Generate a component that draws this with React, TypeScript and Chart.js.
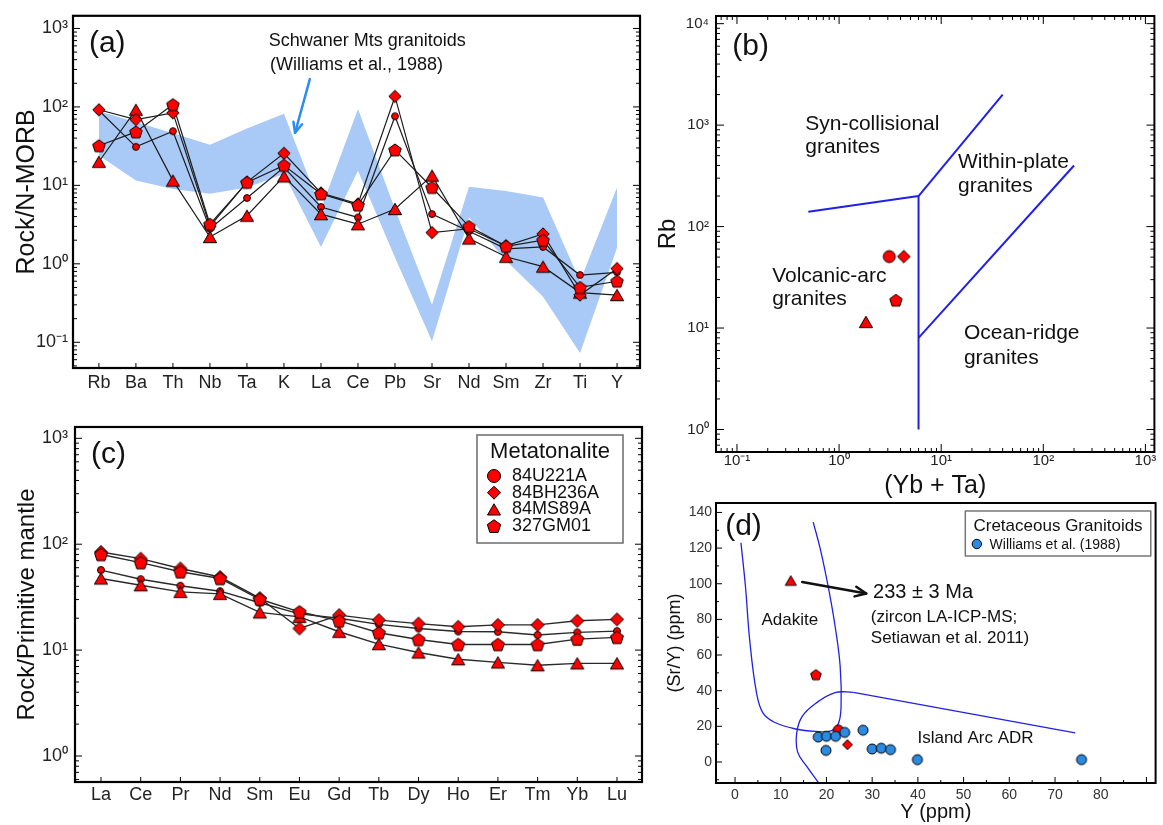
import React, { useEffect, useRef } from 'react';
import { Chart, registerables } from 'chart.js';

Chart.register(...registerables);

const FONT = "'Liberation Sans', Arial, Helvetica, sans-serif";
const RED = '#ff0000';
const BAND = '#a9c9f6';
const BLUE_LINE = '#2020e8';
const WILLIAMS_BLUE = '#2b8be2';
const ARROW_BLUE = '#2b8cf2';

// ---------- shared sample info ----------
const sampleNames = ['84U221A', '84BH236A', '84MS89A', '327GM01'];
const sampleStyles = ['circle', 'diamond', 'triangle', 'pentagon'];

// ---------- Panel (a): N-MORB normalised spider diagram ----------
const elementsA = ['Rb', 'Ba', 'Th', 'Nb', 'Ta', 'K', 'La', 'Ce', 'Pb', 'Sr', 'Nd', 'Sm', 'Zr', 'Ti', 'Y'];
const a84U221A = [90, 31, 49, 2.8, 6.9, 17, 5.3, 3.9, 76, 4.3, 2.6, 1.55, 1.64, 0.72, 0.78];
const a84BH236A = [92, 69, 84, 3.0, 11, 25.6, 8.0, 5.8, 136, 2.5, 2.8, 1.7, 2.4, 0.4, 0.87];
const a84MS89A = [20, 92, 11.5, 2.2, 4.1, 13, 4.3, 3.2, 5.0, 13.3, 2.1, 1.23, 0.92, 0.43, 0.4];
const a327GM01 = [32, 48, 107, 3.2, 10.9, 18, 7.8, 5.6, 28.3, 9.4, 3.0, 1.67, 2.0, 0.5, 0.6];
const schwanerUpper = [88, 64, 46, 33, 53, 82, 5.0, 94, 5.0, 0.3, 9.6, 8.5, 7.0, 0.6, 9.4];
const schwanerLower = [24, 11.5, 9.0, 7.8, 9.4, 14, 1.64, 15.4, 1.2, 0.103, 3.9, 1.1, 0.38, 0.073, 1.6];
const decadesA = [0.1, 1, 10, 100, 1000];

// ---------- Panel (b): Rb vs (Yb+Ta) ----------
const bYbTa = [3.1, 4.3, 1.83, 3.6];
const bRb = [50.6, 50.6, 11.5, 18.8];
const bVagSynX = [0.5, 6];
const bVagSynY = [140, 200];
const bSynWpgX = [6, 40];
const bSynWpgY = [200, 2000];
const bVertX = [6, 6];
const bVertY = [200, 1];
const bWpgOrgX = [6, 200];
const bWpgOrgY = [8, 400];
const decadesBX = [0.1, 1, 10, 100, 1000];
const decadesBY = [1, 10, 100, 1000, 10000];

// ---------- Panel (c): primitive-mantle normalised REE ----------
const elementsC = ['La', 'Ce', 'Pr', 'Nd', 'Sm', 'Eu', 'Gd', 'Tb', 'Dy', 'Ho', 'Er', 'Tm', 'Yb', 'Lu'];
const c84U221A = [57, 46.7, 40.5, 36, 28, 22, 20, 17.5, 16, 15, 14.9, 13.9, 14.7, 15.1];
const c84BH236A = [84.5, 73, 59, 49, 31, 16, 21.4, 19.2, 17.8, 16.6, 17.3, 17.3, 18.9, 19.5];
const c84MS89A = [47.5, 41, 35.5, 34, 22.7, 20.6, 14.9, 11.4, 9.5, 8.2, 7.65, 7.2, 7.5, 7.5];
const c327GM01 = [80, 67, 55, 47.5, 30.2, 23, 18.9, 14.6, 12.6, 11.3, 11.3, 11.3, 12.7, 13.2];
const decadesC = [1, 10, 100, 1000];

// ---------- Panel (d): Sr/Y vs Y ----------
const dWilliamsY = [18.2, 20.0, 22.0, 24.0, 28.0, 19.9, 30.0, 32.0, 34.0, 39.9, 75.8];
const dWilliamsSrY = [14.0, 14.4, 14.4, 16.6, 17.8, 6.5, 7.3, 7.7, 6.9, 1.3, 1.3];
const dSampleY = [22.6, 24.6, 12.2, 17.7];
const dSampleSrY = [17.8, 9.7, 101.8, 49];
const adakiteX = [1.3, 2.3, 3.2, 4.7, 6.1, 8.6, 13.3, 17.6, 21.0, 22.6, 23.2, 23.0, 21.9, 20.5, 18.7, 17.1];
const adakiteY = [123, 98, 68.7, 38.8, 27.5, 22.3, 18.5, 17.2, 17.5, 21.5, 31.2, 53.7, 76, 96.8, 119, 134.6];
const arcCurveX = [18.3, 15.7, 13.7, 13.5, 14.7, 17.7, 21.9, 25.9];
const arcCurveY = [-11.8, -2.5, 5.5, 16.3, 25.6, 33.0, 38.9, 39.1];
const arcLineX = [25.9, 74.4];
const arcLineY = [39.1, 16.3];
const dTicksX = [0, 10, 20, 30, 40, 50, 60, 70, 80];
const dTicksY = [0, 20, 40, 60, 80, 100, 120, 140];

// ---------- helpers ----------
const SUP: Record<string, string> = { '-': '⁻', '0': '⁰', '1': '¹', '2': '²', '3': '³', '4': '⁴' };
function decadeLabel(v: number): string {
  const e = Math.round(Math.log10(v));
  return '10' + String(e).split('').map((c) => SUP[c]).join('');
}
function logTickValues(e0: number, e1: number, mults: number[]): number[] {
  const out: number[] = [];
  for (let e = e0; e <= e1; e++) for (const m of mults) out.push(m * Math.pow(10, e));
  return out;
}
function stepValues(a: number, b: number, step: number): number[] {
  const out: number[] = [];
  for (let v = a; v <= b + 1e-9; v += step) out.push(v);
  return out;
}
const MINORS = [2, 3, 4, 5, 6, 7, 8, 9];

function markerPath(ctx: CanvasRenderingContext2D, style: string, x: number, y: number, r: number) {
  ctx.beginPath();
  if (style === 'circle') {
    ctx.arc(x, y, r, 0, Math.PI * 2);
  } else if (style === 'diamond') {
    ctx.moveTo(x, y - r);
    ctx.lineTo(x + r, y);
    ctx.lineTo(x, y + r);
    ctx.lineTo(x - r, y);
  } else if (style === 'triangle') {
    const yc = y + r * 0.25;
    ctx.moveTo(x, yc - r);
    ctx.lineTo(x + r * 0.866, yc + r * 0.5);
    ctx.lineTo(x - r * 0.866, yc + r * 0.5);
  } else {
    const yc = y + r * 0.095;
    for (let k = 0; k < 5; k++) {
      const a = -Math.PI / 2 + (k * 2 * Math.PI) / 5;
      const px = x + r * Math.cos(a);
      const py = yc + r * Math.sin(a);
      if (k === 0) ctx.moveTo(px, py);
      else ctx.lineTo(px, py);
    }
  }
  ctx.closePath();
}
function drawMarker(ctx: CanvasRenderingContext2D, style: string, x: number, y: number, r: number, fill: string) {
  markerPath(ctx, style, x, y, r);
  ctx.fillStyle = fill;
  ctx.fill();
  ctx.lineWidth = 1;
  ctx.strokeStyle = '#000';
  ctx.stroke();
}
function markerImage(style: string, r: number, fill: string): HTMLCanvasElement {
  const s = 2 * Math.ceil(r + 2);
  const c = document.createElement('canvas');
  c.width = s;
  c.height = s;
  const g = c.getContext('2d') as CanvasRenderingContext2D;
  drawMarker(g, style, s / 2, s / 2, r, fill);
  return c;
}

type TickSpec = { axis: 'x' | 'y'; sides: string[]; values: number[]; len: number };
function framePlugin(lw: number, specs: TickSpec[]) {
  return {
    id: 'frame',
    afterDatasetsDraw(chart: any) {
      const { ctx, chartArea: ca } = chart;
      ctx.save();
      ctx.strokeStyle = '#000';
      ctx.lineWidth = 1;
      ctx.beginPath();
      for (const s of specs) {
        const sc = chart.scales[s.axis];
        for (const v of s.values) {
          const p = sc.getPixelForValue(v);
          if (s.axis === 'x') {
            if (p < ca.left + 1 || p > ca.right - 1) continue;
            for (const side of s.sides) {
              if (side === 'bottom') {
                ctx.moveTo(p, ca.bottom);
                ctx.lineTo(p, ca.bottom - s.len);
              } else {
                ctx.moveTo(p, ca.top);
                ctx.lineTo(p, ca.top + s.len);
              }
            }
          } else {
            if (p < ca.top + 1 || p > ca.bottom - 1) continue;
            for (const side of s.sides) {
              if (side === 'left') {
                ctx.moveTo(ca.left, p);
                ctx.lineTo(ca.left + s.len, p);
              } else {
                ctx.moveTo(ca.right, p);
                ctx.lineTo(ca.right - s.len, p);
              }
            }
          }
        }
      }
      ctx.stroke();
      ctx.lineWidth = lw;
      ctx.strokeRect(ca.left, ca.top, ca.right - ca.left, ca.bottom - ca.top);
      ctx.restore();
    },
  };
}

type Txt = { t: string; x: number; y: number; size: number; align?: CanvasTextAlign };
type Arr = { x1: number; y1: number; x2: number; y2: number; color: string; lw: number; head: number };
function annotPlugin(texts: Txt[], arrows: Arr[], extra?: (chart: any) => void) {
  return {
    id: 'annot',
    afterDraw(chart: any) {
      const { ctx } = chart;
      const sx = chart.scales.x;
      const sy = chart.scales.y;
      ctx.save();
      for (const a of arrows) {
        const x1 = sx.getPixelForValue(a.x1);
        const y1 = sy.getPixelForValue(a.y1);
        const x2 = sx.getPixelForValue(a.x2);
        const y2 = sy.getPixelForValue(a.y2);
        ctx.strokeStyle = a.color;
        ctx.lineWidth = a.lw;
        ctx.lineCap = 'round';
        ctx.lineJoin = 'round';
        ctx.beginPath();
        ctx.moveTo(x1, y1);
        ctx.lineTo(x2, y2);
        ctx.stroke();
        const ang = Math.atan2(y2 - y1, x2 - x1);
        ctx.beginPath();
        ctx.moveTo(x2 - a.head * Math.cos(ang - 0.42), y2 - a.head * Math.sin(ang - 0.42));
        ctx.lineTo(x2, y2);
        ctx.lineTo(x2 - a.head * Math.cos(ang + 0.42), y2 - a.head * Math.sin(ang + 0.42));
        ctx.stroke();
      }
      ctx.fillStyle = '#111';
      ctx.textBaseline = 'middle';
      for (const t of texts) {
        ctx.font = `${t.size}px ${FONT}`;
        ctx.textAlign = t.align || 'left';
        ctx.fillText(t.t, sx.getPixelForValue(t.x), sy.getPixelForValue(t.y));
      }
      if (extra) extra(chart);
      ctx.restore();
    },
  };
}

function baseOptions(padTop: number, padRight: number) {
  return {
    responsive: false,
    animation: false,
    events: [],
    layout: { padding: { left: 0, top: padTop, right: padRight, bottom: 0 } },
    plugins: { legend: { display: false }, tooltip: { enabled: false } },
  };
}
const noGrid = { display: false, drawTicks: false };
const noBorder = { display: false };

// ---------- Panel (a) config ----------
function makeA(): any {
  const pts = (vals: number[]) => vals.map((v, i) => ({ x: i, y: v }));
  const samples = [a84U221A, a84BH236A, a84MS89A, a327GM01];
  const radii = [3.4, 6.2, 7.6, 6.6];
  const markerOrder = [3, 1, 2, 0];
  const datasets: any[] = [
    { data: pts(schwanerUpper), fill: '+1', backgroundColor: BAND, borderColor: 'rgba(0,0,0,0)', borderWidth: 1, pointRadius: 0, order: 20 },
    { data: pts(schwanerLower), fill: false, borderColor: 'rgba(0,0,0,0)', borderWidth: 1, pointRadius: 0, order: 21 },
  ];
  samples.forEach((s, k) =>
    datasets.push({ data: pts(s), borderColor: '#1c1c1c', borderWidth: 1.2, pointRadius: 0, fill: false, order: 10 + k })
  );
  samples.forEach((s, k) =>
    datasets.push({
      data: pts(s),
      showLine: false,
      pointStyle: markerImage(sampleStyles[k], radii[k], RED),
      pointRadius: radii[k],
      order: markerOrder[k],
    })
  );
  return {
    type: 'line',
    data: { datasets },
    options: {
      ...baseOptions(13, 20),
      scales: {
        x: {
          type: 'linear',
          min: -0.7,
          max: 14.62,
          afterBuildTicks: (s: any) => { s.ticks = elementsA.map((_, i) => ({ value: i })); },
          afterFit: (s: any) => { s.height = 32; },
          ticks: {
            callback: (v: number) => elementsA[Math.round(v)],
            font: { family: FONT, size: 18 },
            color: '#222',
            padding: 4,
            maxRotation: 0,
            autoSkip: false,
          },
          grid: noGrid,
          border: noBorder,
        },
        y: {
          type: 'logarithmic',
          min: 0.047,
          max: 1450,
          afterBuildTicks: (s: any) => { s.ticks = decadesA.map((v) => ({ value: v })); },
          afterFit: (s: any) => { s.width = 73; },
          ticks: { callback: (v: number) => decadeLabel(v), font: { family: FONT, size: 18 }, color: '#222', padding: 5, autoSkip: false },
          grid: noGrid,
          border: noBorder,
          title: { display: true, text: 'Rock/N-MORB', font: { family: FONT, size: 25 }, color: '#111', padding: { top: 12, bottom: 0 } },
        },
      },
    },
    plugins: [
      framePlugin(2.2, [
        { axis: 'y', sides: ['left', 'right'], values: logTickValues(-2, 3, [1]), len: 7 },
        { axis: 'y', sides: ['left', 'right'], values: logTickValues(-2, 3, MINORS), len: 4 },
        { axis: 'x', sides: ['bottom'], values: elementsA.map((_, i) => i), len: 5 },
      ]),
      annotPlugin(
        [
          { t: '(a)', x: -0.27, y: 640, size: 30 },
          { t: 'Schwaner Mts granitoids', x: 4.59, y: 685, size: 18 },
          { t: '(Williams et al., 1988)', x: 4.62, y: 340, size: 18 },
        ],
        [{ x1: 5.7, y1: 226, x2: 5.3, y2: 46.9, color: ARROW_BLUE, lw: 2.5, head: 11 }]
      ),
    ],
  };
}

// ---------- Panel (b) config ----------
function makeB(): any {
  const radii = [6, 6.3, 7.6, 6.5];
  const lineDs = (xs: number[], ys: number[]) => ({
    data: xs.map((x, i) => ({ x, y: ys[i] })),
    showLine: true,
    borderColor: BLUE_LINE,
    borderWidth: 2,
    pointRadius: 0,
    fill: false,
    order: 10,
  });
  const datasets: any[] = sampleNames.map((_, k) => ({
    data: [{ x: bYbTa[k], y: bRb[k] }],
    pointStyle: markerImage(sampleStyles[k], radii[k], RED),
    pointRadius: radii[k],
    order: k,
  }));
  datasets.push(lineDs(bVagSynX, bVagSynY), lineDs(bSynWpgX, bSynWpgY), lineDs(bVertX, bVertY), lineDs(bWpgOrgX, bWpgOrgY));
  return {
    type: 'scatter',
    data: { datasets },
    options: {
      ...baseOptions(13, 8),
      scales: {
        x: {
          type: 'logarithmic',
          min: 0.0623,
          max: 1225,
          afterBuildTicks: (s: any) => { s.ticks = decadesBX.map((v) => ({ value: v })); },
          afterFit: (s: any) => { s.height = 53; },
          ticks: { callback: (v: number) => decadeLabel(v), font: { family: FONT, size: 15 }, color: '#222', padding: 0, maxRotation: 0, autoSkip: false },
          grid: noGrid,
          border: noBorder,
          title: { display: true, text: '(Yb + Ta)', font: { family: FONT, size: 25 }, color: '#111', padding: { top: 0, bottom: 4 } },
        },
        y: {
          type: 'logarithmic',
          min: 0.62,
          max: 11900,
          afterBuildTicks: (s: any) => { s.ticks = decadesBY.map((v) => ({ value: v })); },
          afterFit: (s: any) => { s.width = 76; },
          ticks: { callback: (v: number) => decadeLabel(v), font: { family: FONT, size: 15 }, color: '#222', padding: 7, autoSkip: false },
          grid: noGrid,
          border: noBorder,
          title: { display: true, text: 'Rb', font: { family: FONT, size: 24 }, color: '#111', padding: { top: 14, bottom: 0 } },
        },
      },
    },
    plugins: [
      framePlugin(2, [
        { axis: 'y', sides: ['left', 'right'], values: logTickValues(-1, 4, [1]), len: 8 },
        { axis: 'y', sides: ['left', 'right'], values: logTickValues(-1, 4, MINORS), len: 4 },
        { axis: 'x', sides: ['bottom', 'top'], values: logTickValues(-2, 3, [1]), len: 8 },
        { axis: 'x', sides: ['bottom', 'top'], values: logTickValues(-2, 3, MINORS), len: 4 },
      ]),
      annotPlugin(
        [
          { t: '(b)', x: 0.09, y: 5900, size: 30 },
          { t: 'Syn-collisional', x: 0.466, y: 1027, size: 21 },
          { t: 'granites', x: 0.466, y: 600, size: 21 },
          { t: 'Within-plate', x: 14.6, y: 428, size: 21 },
          { t: 'granites', x: 14.6, y: 250, size: 21 },
          { t: 'Volcanic-arc', x: 0.221, y: 32.3, size: 21 },
          { t: 'granites', x: 0.221, y: 19.3, size: 21 },
          { t: 'Ocean-ridge', x: 16.7, y: 8.98, size: 21 },
          { t: 'granites', x: 16.7, y: 5.0, size: 21 },
        ],
        []
      ),
    ],
  };
}

// ---------- Panel (c) config ----------
function makeC(): any {
  const pts = (vals: number[]) => vals.map((v, i) => ({ x: i, y: v }));
  const samples = [c84U221A, c84BH236A, c84MS89A, c327GM01];
  const radii = [3.5, 6.5, 7.6, 6.8];
  const markerOrder = [3, 1, 2, 0];
  const datasets: any[] = [];
  samples.forEach((s, k) =>
    datasets.push({ data: pts(s), borderColor: '#2a2a2a', borderWidth: 1.4, pointRadius: 0, fill: false, order: 10 + k })
  );
  samples.forEach((s, k) =>
    datasets.push({
      data: pts(s),
      showLine: false,
      pointStyle: markerImage(sampleStyles[k], radii[k], RED),
      pointRadius: radii[k],
      order: markerOrder[k],
    })
  );
  const legendR = [6.5, 6.5, 7.5, 7];
  const drawLegend = (chart: any) => {
    const { ctx, chartArea: ca } = chart;
    const bx = ca.right - 165;
    const by = ca.top + 8;
    const bw = 146;
    const bh = 108;
    ctx.lineWidth = 1.5;
    ctx.strokeStyle = '#6b6b6b';
    ctx.strokeRect(bx, by, bw, bh);
    ctx.fillStyle = '#111';
    ctx.textBaseline = 'middle';
    ctx.font = `22px ${FONT}`;
    ctx.textAlign = 'center';
    ctx.fillText('Metatonalite', bx + bw / 2, by + 17);
    ctx.font = `18px ${FONT}`;
    ctx.textAlign = 'left';
    sampleNames.forEach((n, i) => {
      const yy = by + 41 + i * 16.7;
      drawMarker(ctx, sampleStyles[i], bx + 17, yy, legendR[i], RED);
      ctx.fillStyle = '#111';
      ctx.fillText(n, bx + 35, yy);
    });
  };
  return {
    type: 'line',
    data: { datasets },
    options: {
      ...baseOptions(27, 18),
      scales: {
        x: {
          type: 'linear',
          min: -0.655,
          max: 13.63,
          afterBuildTicks: (s: any) => { s.ticks = elementsC.map((_, i) => ({ value: i })); },
          afterFit: (s: any) => { s.height = 43; },
          ticks: {
            callback: (v: number) => elementsC[Math.round(v)],
            font: { family: FONT, size: 18 },
            color: '#222',
            padding: 2,
            maxRotation: 0,
            autoSkip: false,
          },
          grid: noGrid,
          border: noBorder,
        },
        y: {
          type: 'logarithmic',
          min: 0.568,
          max: 1279,
          afterBuildTicks: (s: any) => { s.ticks = decadesC.map((v) => ({ value: v })); },
          afterFit: (s: any) => { s.width = 75; },
          ticks: { callback: (v: number) => decadeLabel(v), font: { family: FONT, size: 18 }, color: '#222', padding: 7, autoSkip: false },
          grid: noGrid,
          border: noBorder,
          title: { display: true, text: 'Rock/Primitive mantle', font: { family: FONT, size: 24 }, color: '#111', padding: { top: 12.6, bottom: 0 } },
        },
      },
    },
    plugins: [
      framePlugin(2.2, [
        { axis: 'y', sides: ['left', 'right'], values: logTickValues(-1, 3, [1]), len: 7 },
        { axis: 'y', sides: ['left', 'right'], values: logTickValues(-1, 3, MINORS), len: 4 },
        { axis: 'x', sides: ['bottom'], values: elementsC.map((_, i) => i), len: 5 },
      ]),
      annotPlugin([{ t: '(c)', x: -0.25, y: 706, size: 30 }], [], drawLegend),
    ],
  };
}

// ---------- Panel (d) config ----------
function makeD(): any {
  const radii = [5.2, 5, 6.4, 5.6];
  const markerOrder = [2, 0, 0, 0];
  const curve = (xs: number[], ys: number[], tension: number) => ({
    data: xs.map((x, i) => ({ x, y: ys[i] })),
    showLine: true,
    borderColor: BLUE_LINE,
    borderWidth: 1.3,
    pointRadius: 0,
    fill: false,
    tension,
    order: 10,
  });
  const datasets: any[] = [
    {
      data: dWilliamsY.map((x, i) => ({ x, y: dWilliamsSrY[i] })),
      pointStyle: markerImage('circle', 5, WILLIAMS_BLUE),
      pointRadius: 5,
      order: 1,
    },
  ];
  sampleNames.forEach((_, k) =>
    datasets.push({
      data: [{ x: dSampleY[k], y: dSampleSrY[k] }],
      pointStyle: markerImage(sampleStyles[k], radii[k], RED),
      pointRadius: radii[k],
      order: markerOrder[k],
    })
  );
  datasets.push(curve(adakiteX, adakiteY, 0.4), curve(arcCurveX, arcCurveY, 0.4), curve(arcLineX, arcLineY, 0));
  const drawLegend = (chart: any) => {
    const { ctx, chartArea: ca } = chart;
    const bx = ca.right - 190.3;
    const by = ca.top + 8;
    const bw = 185.5;
    const bh = 45;
    ctx.lineWidth = 1.5;
    ctx.strokeStyle = '#777';
    ctx.strokeRect(bx, by, bw, bh);
    ctx.fillStyle = '#111';
    ctx.textBaseline = 'middle';
    ctx.font = `17px ${FONT}`;
    ctx.textAlign = 'center';
    ctx.fillText('Cretaceous Granitoids', bx + bw / 2, by + 15);
    drawMarker(ctx, 'circle', bx + 11.6, by + 33, 4.7, WILLIAMS_BLUE);
    ctx.fillStyle = '#111';
    ctx.font = `14px ${FONT}`;
    ctx.textAlign = 'left';
    ctx.fillText('Williams et al. (1988)', bx + 24.3, by + 34);
  };
  return {
    type: 'scatter',
    data: { datasets },
    options: {
      ...baseOptions(33, 1),
      scales: {
        x: {
          type: 'linear',
          min: -4.16,
          max: 92,
          afterBuildTicks: (s: any) => { s.ticks = dTicksX.map((v) => ({ value: v })); },
          afterFit: (s: any) => { s.height = 42; },
          ticks: { font: { family: FONT, size: 14 }, color: '#333', padding: 4, maxRotation: 0, autoSkip: false },
          grid: noGrid,
          border: noBorder,
          title: { display: true, text: 'Y (ppm)', font: { family: FONT, size: 20 }, color: '#111', padding: { top: 0, bottom: 1 } },
        },
        y: {
          type: 'linear',
          min: -11.8,
          max: 145.3,
          afterBuildTicks: (s: any) => { s.ticks = dTicksY.map((v) => ({ value: v })); },
          afterFit: (s: any) => { s.width = 76; },
          ticks: { font: { family: FONT, size: 14 }, color: '#333', padding: 4, autoSkip: false },
          grid: noGrid,
          border: noBorder,
          title: { display: true, text: '(Sr/Y) (ppm)', font: { family: FONT, size: 18 }, color: '#111', padding: { top: 24, bottom: 0 } },
        },
      },
    },
    plugins: [
      framePlugin(2, [
        { axis: 'y', sides: ['left'], values: stepValues(0, 140, 20), len: 6 },
        { axis: 'y', sides: ['left'], values: stepValues(-10, 130, 20), len: 3 },
        { axis: 'x', sides: ['bottom'], values: stepValues(0, 90, 10), len: 6 },
        { axis: 'x', sides: ['bottom'], values: stepValues(-5, 85, 10), len: 3 },
      ]),
      annotPlugin(
        [
          { t: '(d)', x: -2.16, y: 131.9, size: 30 },
          { t: 'Adakite', x: 12.0, y: 79.7, size: 17, align: 'center' },
          { t: '233 ± 3 Ma', x: 30.2, y: 95.1, size: 20 },
          { t: '(zircon LA-ICP-MS;', x: 29.7, y: 81.1, size: 17 },
          { t: 'Setiawan et al. 2011)', x: 29.7, y: 69.6, size: 17 },
          { t: 'Island Arc ADR', x: 39.9, y: 13.1, size: 17 },
        ],
        [{ x1: 14.7, y1: 101, x2: 28.7, y2: 94.5, color: '#111', lw: 2.5, head: 12 }],
        drawLegend
      ),
    ],
  };
}

function ChartBox(props: { left: number; top: number; width: number; height: number; make: () => any }) {
  const ref = useRef<HTMLCanvasElement>(null);
  useEffect(() => {
    const chart = new Chart(ref.current as HTMLCanvasElement, props.make());
    return () => chart.destroy();
  }, []);
  return (
    <canvas
      ref={ref}
      width={props.width}
      height={props.height}
      style={{ position: 'absolute', left: props.left, top: props.top, width: props.width, height: props.height }}
    />
  );
}

export default function App() {
  return (
    <div style={{ position: 'absolute', left: 0, top: 0, width: 1163, height: 825, background: '#fff', overflow: 'hidden' }}>
      <ChartBox left={0} top={0} width={660} height={400} make={makeA} />
      <ChartBox left={640} top={0} width={523} height={505} make={makeB} />
      <ChartBox left={0} top={400} width={660} height={425} make={makeC} />
      <ChartBox left={640} top={470} width={523} height={355} make={makeD} />
    </div>
  );
}
